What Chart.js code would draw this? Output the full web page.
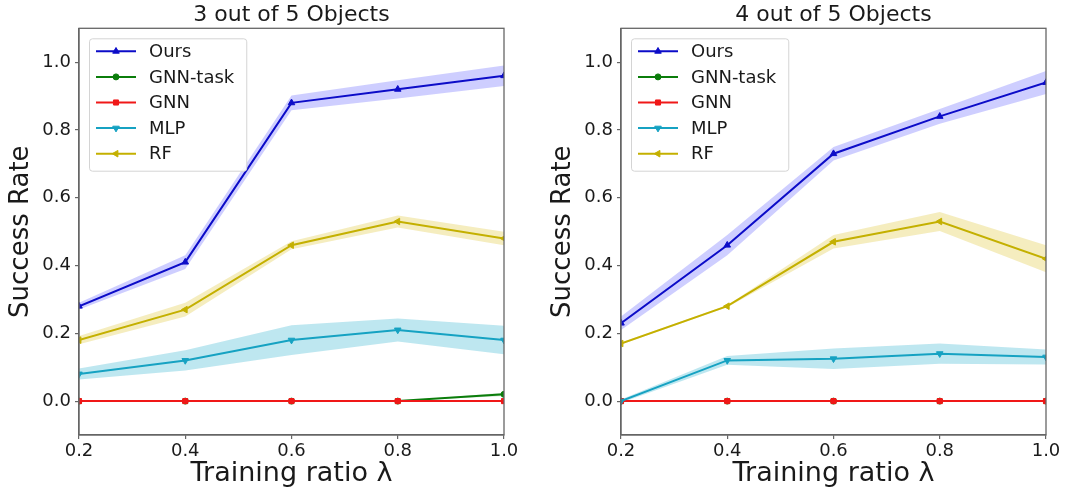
<!DOCTYPE html>
<html>
<head>
<meta charset="utf-8">
<script src="https://cdn.jsdelivr.net/npm/chart.js@4/dist/chart.umd.min.js"></script>
<style>
  html, body { margin: 0; padding: 0; background: #fff; }
  #wrap { position: relative; width: 1086px; height: 492px; overflow: hidden; }
  canvas { position: absolute; top: 0; }
  #c1 { left: 0; }
  #c2 { left: 542px; }
</style>
</head>
<body>
<div id="wrap">
  <canvas id="c1" width="543" height="492"></canvas>
  <canvas id="c2" width="543" height="492"></canvas>
</div>
<script>
// Training ratios (x axis) and tick values
const ratios = [0.2, 0.4, 0.6, 0.8, 1.0];
const xTicks = [0.2, 0.4, 0.6, 0.8, 1.0];
const yTicks = [0.0, 0.2, 0.4, 0.6, 0.8, 1.0];
const seriesNames = ['Ours', 'GNN-task', 'GNN', 'MLP', 'RF'];
const panelTitles = ['3 out of 5 Objects', '4 out of 5 Objects'];

// 3 out of 5 objects: mean success rate and spread
const ours3      = [0.28, 0.41, 0.88, 0.92, 0.96];
const oursSd3    = [0.01, 0.02, 0.022, 0.027, 0.03];
const gnnTask3   = [0.0, 0.0, 0.0, 0.0, 0.02];
const gnnTaskSd3 = [0.0, 0.0, 0.0, 0.0, 0.005];
const gnn3       = [0.0, 0.0, 0.0, 0.0, 0.0];
const gnnSd3     = [0.0, 0.0, 0.0, 0.0, 0.0];
const mlp3       = [0.08, 0.12, 0.18, 0.21, 0.18];
const mlpSd3     = [0.016, 0.03, 0.044, 0.034, 0.042];
const rf3        = [0.18, 0.27, 0.46, 0.53, 0.48];
const rfSd3      = [0.012, 0.02, 0.012, 0.018, 0.02];

// 4 out of 5 objects: mean success rate and spread
const ours4      = [0.23, 0.46, 0.73, 0.84, 0.94];
const oursSd4    = [0.02, 0.03, 0.02, 0.022, 0.034];
const gnnTask4   = [0.0, 0.0, 0.0, 0.0, 0.0];
const gnnTaskSd4 = [0.0, 0.0, 0.0, 0.0, 0.0];
const gnn4       = [0.0, 0.0, 0.0, 0.0, 0.0];
const gnnSd4     = [0.0, 0.0, 0.0, 0.0, 0.0];
const mlp4       = [0.0, 0.12, 0.125, 0.14, 0.13];
const mlpSd4     = [0.005, 0.013, 0.03, 0.03, 0.022];
const rf4        = [0.17, 0.28, 0.47, 0.53, 0.42];
const rfSd4      = [0.003, 0.003, 0.02, 0.028, 0.04];

const FONT = "'DejaVu Sans', 'Liberation Sans', sans-serif";
const AXIS = '#666666';
const TEXT = '#1a1a1a';

const styles = [
  { color: '#0c0cc8', band: 'rgba(30,30,255,0.22)',  pointStyle: 'triangle', rotation: 0,   radius: 3.8 },
  { color: '#0b7d0b', band: 'rgba(0,128,0,0.22)',    pointStyle: 'circle',   rotation: 0,   radius: 3.0 },
  { color: '#f01818', band: 'rgba(255,0,0,0.2)',     pointStyle: 'rect',     rotation: 0,   radius: 3.6 },
  { color: '#16a2c2', band: 'rgba(23,170,200,0.28)', pointStyle: 'triangle', rotation: 180, radius: 3.8 },
  { color: '#c4b000', band: 'rgba(215,185,0,0.25)',  pointStyle: 'triangle', rotation: -90, radius: 3.8 }
];

Chart.defaults.font.family = FONT;

function pts(vals) { return ratios.map((x, k) => ({ x: x, y: vals[k] })); }

function buildDatasets(means, sds) {
  const sets = [];
  means.forEach((m, i) => {
    const st = styles[i];
    sets.push({ isBand: true, data: pts(m.map((v, k) => v + sds[i][k])), borderWidth: 0, pointRadius: 0, fill: false, order: 10 });
    sets.push({ isBand: true, data: pts(m.map((v, k) => v - sds[i][k])), borderWidth: 0, pointRadius: 0, fill: '-1', backgroundColor: st.band, order: 10 });
  });
  means.forEach((m, i) => {
    const st = styles[i];
    sets.push({
      label: seriesNames[i], seriesIndex: i, data: pts(m),
      borderColor: st.color, backgroundColor: st.color, borderWidth: 2,
      pointStyle: st.pointStyle, pointRotation: st.rotation, pointRadius: st.radius,
      pointBorderWidth: 1, pointBorderColor: st.color, pointBackgroundColor: st.color,
      fill: false, tension: 0, order: 5 - i
    });
  });
  return sets;
}

// Boxed legend in the upper-left corner of the plot, plus the full frame round the plot
const legendBoxPlugin = {
  id: 'legendBox',
  afterDatasetsDraw(chart) {
    const ca = chart.chartArea, ctx = chart.ctx;
    const items = chart.data.datasets.filter(ds => !ds.isBand);
    const fontSize = 18, rowGap = 25.6;
    ctx.save();
    ctx.font = fontSize + 'px ' + FONT;
    let maxW = 0;
    items.forEach(ds => { maxW = Math.max(maxW, ctx.measureText(ds.label).width); });
    const x0 = ca.left + 10, y0 = ca.top + 10;
    const textX = x0 + 60;
    const x1 = textX + maxW + 12;
    const y1 = y0 + 13 + (items.length - 1) * rowGap + 17;
    ctx.beginPath();
    ctx.roundRect(x0 + 0.5, y0 + 0.5, x1 - x0, y1 - y0, 3);
    ctx.fillStyle = 'rgba(255,255,255,0.85)';
    ctx.fill();
    ctx.strokeStyle = '#d4d4d4';
    ctx.lineWidth = 1;
    ctx.stroke();
    items.forEach((ds, k) => {
      const st = styles[ds.seriesIndex];
      const cy = y0 + 13 + k * rowGap;
      ctx.strokeStyle = st.color; ctx.lineWidth = 2;
      ctx.beginPath(); ctx.moveTo(x0 + 7, cy); ctx.lineTo(x0 + 47, cy); ctx.stroke();
      ctx.fillStyle = st.color; ctx.lineWidth = 1;
      Chart.helpers.drawPoint(ctx, { pointStyle: st.pointStyle, rotation: st.rotation, radius: st.radius, borderWidth: 1 }, x0 + 27, cy);
      ctx.fillStyle = TEXT;
      ctx.textBaseline = 'middle';
      ctx.textAlign = 'left';
      ctx.fillText(ds.label, textX, cy + 1);
    });
    ctx.restore();
  },
  afterDraw(chart) {
    const ca = chart.chartArea, ctx = chart.ctx;
    ctx.save();
    ctx.strokeStyle = AXIS;
    ctx.lineWidth = 1.3;
    ctx.strokeRect(ca.left, ca.top, ca.right - ca.left, ca.bottom - ca.top);
    ctx.restore();
  }
};

function makeChart(id, title, means, sds) {
  return new Chart(document.getElementById(id), {
    type: 'line',
    data: { datasets: buildDatasets(means, sds) },
    plugins: [legendBoxPlugin],
    options: {
      responsive: false,
      animation: false,
      devicePixelRatio: 1,
      layout: { padding: { left: 0, right: 39, top: 0, bottom: 0 } },
      plugins: {
        tooltip: { enabled: false },
        legend: { display: false },
        title: {
          display: true, text: title, fullSize: false, color: TEXT,
          font: { size: 22, weight: 'normal', lineHeight: 1.15 },
          padding: { top: 3, bottom: 0 }
        }
      },
      scales: {
        x: {
          type: 'linear', min: 0.2, max: 1.0,
          afterBuildTicks(s) { s.ticks = xTicks.map(v => ({ value: v })); },
          afterFit(s) { s.height = 57; },
          ticks: { callback: v => Number(v).toFixed(1), color: TEXT, font: { size: 18 }, padding: 2, maxRotation: 0, autoSkip: false },
          grid: { drawOnChartArea: false, drawTicks: true, tickLength: 4, color: AXIS, lineWidth: 1.2 },
          border: { display: true, color: AXIS, width: 1.3 },
          title: { display: true, text: 'Training ratio λ', color: TEXT, font: { size: 27 }, padding: { top: 0, bottom: 2 } }
        },
        y: {
          type: 'linear', min: -0.1, max: 1.1,
          afterBuildTicks(s) { s.ticks = yTicks.map(v => ({ value: v })); },
          afterFit(s) { s.width = 79; },
          ticks: { callback: v => Number(v).toFixed(1), color: TEXT, font: { size: 18 }, padding: 4 },
          grid: { drawOnChartArea: false, drawTicks: true, tickLength: 4, color: AXIS, lineWidth: 1.2 },
          border: { display: true, color: AXIS, width: 1.3 },
          title: { display: true, text: 'Success Rate', color: TEXT, font: { size: 26 }, padding: { top: 6, bottom: 0 } }
        }
      }
    }
  });
}

makeChart('c1', panelTitles[0],
  [ours3, gnnTask3, gnn3, mlp3, rf3],
  [oursSd3, gnnTaskSd3, gnnSd3, mlpSd3, rfSd3]);
makeChart('c2', panelTitles[1],
  [ours4, gnnTask4, gnn4, mlp4, rf4],
  [oursSd4, gnnTaskSd4, gnnSd4, mlpSd4, rfSd4]);
</script>
</body>
</html>
